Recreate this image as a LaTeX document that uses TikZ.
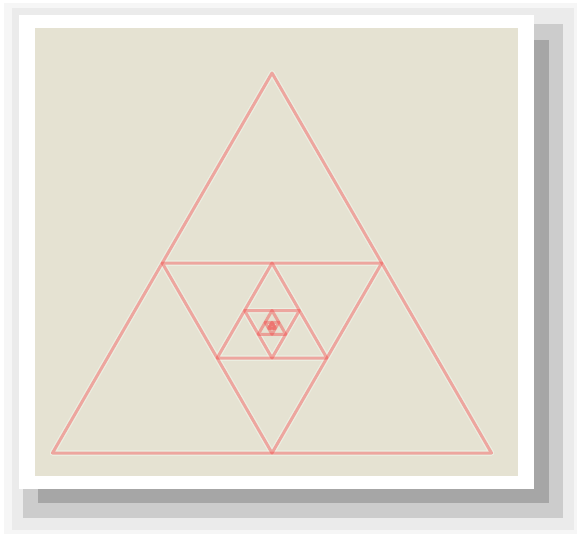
\documentclass[tikz,border=0pt]{standalone}
\usetikzlibrary{calc}
\definecolor{bgbeige}{HTML}{E5E2D2}
\definecolor{linered}{HTML}{F23C3C}
\definecolor{halo}{HTML}{EEF4E8}
\definecolor{shA}{HTML}{F6F6F6}
\definecolor{shB}{HTML}{EBEBEB}
\definecolor{shC}{HTML}{CCCCCC}
\definecolor{shD}{HTML}{A6A6A6}
\tikzset{
  tri/.style={draw=linered, draw opacity=0.4, line width=3pt, line join=round, line cap=round},
  trihalo/.style={draw=halo, draw opacity=0.7, line width=5.5pt, line join=round, line cap=round}
}
\begin{document}
\begin{tikzpicture}[x=1pt,y=-1pt]
\useasboundingbox (0,0) rectangle (577,534);
% outer light background and shadow
\fill[white] (0,0) rectangle (577,534);
\fill[shA] (4,3) rectangle (577,534);
\fill[shB] (12,8) rectangle (574,530);
\fill[shC] (23,24) rectangle (563,518);
\fill[shD] (38,40) rectangle (549,503);
% white frame
\fill[white] (19,15) rectangle (534,489);
% beige panel
\fill[bgbeige] (35,28) rectangle (518,476);
% nested triangles
\coordinate (p0-a) at (272,73);
\coordinate (p0-b) at (52.5,453);
\coordinate (p0-c) at (491.5,453);
\foreach \i/\j in {0/1,1/2,2/3,3/4,4/5,5/6,6/7,7/8} {
  \coordinate (p\j-a) at ($(p\i-b)!0.5!(p\i-c)$);
  \coordinate (p\j-b) at ($(p\i-a)!0.5!(p\i-c)$);
  \coordinate (p\j-c) at ($(p\i-a)!0.5!(p\i-b)$);
}
\foreach \i in {0,...,3} {
  \draw[trihalo] (p\i-a) -- (p\i-b) -- (p\i-c) -- cycle;
}
\foreach \i in {0,...,7} {
  \draw[tri] (p\i-a) -- (p\i-b) -- (p\i-c) -- cycle;
}
\end{tikzpicture}
\end{document}
